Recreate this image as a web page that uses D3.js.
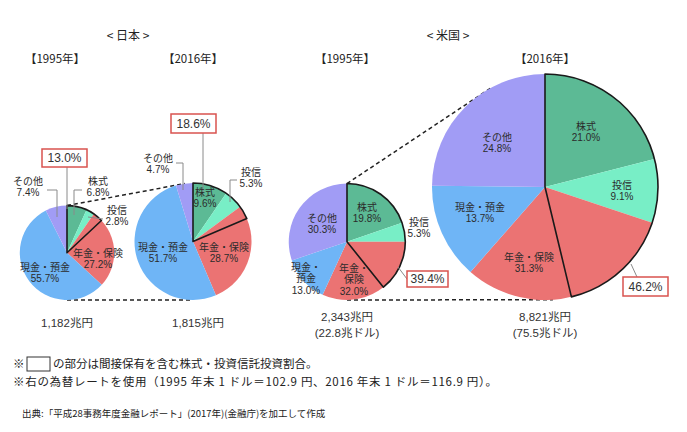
<!DOCTYPE html>
<html>
<head>
<meta charset="utf-8">
<script src="https://cdn.jsdelivr.net/npm/d3@7"></script>
<style>
  body { margin: 0; background: #fff; }
  svg { font-family: "Noto Sans CJK JP", "Noto Sans", sans-serif; }
  .lbl { font-family: "Liberation Sans", "Noto Sans CJK JP", sans-serif; }
</style>
</head>
<body>
<svg id="chart" width="687" height="432"></svg>
<script>
// data
const categories = ["株式", "投信", "年金・保険", "現金・預金", "その他"]
const jp1995 = [6.8, 2.8, 27.2, 55.7, 7.4]
const jp2016 = [9.6, 5.3, 28.7, 51.7, 4.7]
const us1995 = [19.8, 5.3, 32.0, 13.0, 30.3]
const us2016 = [21.0, 9.1, 31.3, 13.7, 24.8]
const highlightShare = [13.0, 18.6, 39.4, 46.2]
const totalsYen = [1182, 1815, 2343, 8821]
const totalLabels = ["1,182兆円", "1,815兆円", "2,343兆円", "8,821兆円"]
const dollarLabels = [null, null, "(22.8兆ドル)", "(75.5兆ドル)"]
const yearLabels = ["【1995年】", "【2016年】", "【1995年】", "【2016年】"]
const countryLabels = ["< 日本 >", "< 米国 >"]

const colors = d3.scaleOrdinal()
  .domain(categories)
  .range(["#5cba95", "#78eec6", "#eb7373", "#6fb5f6", "#a19cf5"])

const svg = d3.select("#chart")
const baseY = 300

/**
 * Radius scales, one per country
 */
const rJp = d3.scaleSqrt().domain([0, 1815]).range([0, 58.5])
const rUs = d3.scaleSqrt().domain([0, 8821]).range([0, 113])

const pies = [
  { values: jp1995, cx: 67, r: rJp(totalsYen[0]) },
  { values: jp2016, cx: 193, r: rJp(totalsYen[1]) },
  { values: us1995, cx: 347, r: rUs(totalsYen[2]) },
  { values: us2016, cx: 545, r: rUs(totalsYen[3]) },
]
pies.forEach(p => { p.cy = baseY - p.r })

// label placement (annotation layout)
const labelPos = [
  [[98, 181], [117, 210], [98, 253], [45, 267], [28, 181]],
  [[205, 192], [251, 172], [224, 247], [163, 247], [158, 158]],
  [[367, 207], [419, 222], [354, 268], [306, 267], [322, 218]],
  [[586, 126], [622, 185], [529, 257], [480, 207], [497, 137]],
]
const splitNames = [null, null, { 2: ["年金・", "保険"], 3: ["現金・", "預金"] }, null]

const leaders = [
  [[47, 190], [57, 190], [57, 217]],
  [[82, 190], [74, 190], [74, 215]],
  [[103, 219], [88, 217]],
  [[176, 163], [183, 163], [183, 190]],
  [[237, 180], [230, 180], [230, 202]],
]

const boxes = [
  { x: 42, y: 149, w: 45, h: 18, line: [[67, 167], [67, 209]] },
  { x: 171, y: 114, w: 45, h: 19, line: [[203, 133], [203, 192]] },
  { x: 407, y: 271, w: 41, h: 16, line: [[407, 279], [398, 267]] },
  { x: 623, y: 277, w: 45, h: 19, line: [[637, 277], [631, 264]] },
]

const pie = d3.pie().sort(null).value(d => d)
const line = d3.line()

/**
 * Dashed perspective lines between the 1995 and 2016 pies
 */
function onCircle(p, deg) {
  const a = deg * Math.PI / 180
  return [p.cx + p.r * Math.sin(a), p.cy - p.r * Math.cos(a)]
}
const connectors = [
  [onCircle(pies[0], 0), onCircle(pies[1], -8)],
  [onCircle(pies[0], 180), onCircle(pies[1], 180)],
  [onCircle(pies[2], 0), onCircle(pies[3], -28)],
  [onCircle(pies[2], 180), onCircle(pies[3], 176)],
]
svg.selectAll(".connector")
  .data(connectors)
  .enter()
  .append("path")
  .attr("class", "connector")
  .attr("d", d => line(d))
  .attr("stroke", "#222")
  .attr("stroke-width", 1.5)
  .attr("stroke-dasharray", "4,3")
  .attr("fill", "none")

/**
 * Draw pies
 */
pies.forEach((p, i) => {
  const g = svg.append("g").attr("transform", `translate(${p.cx},${p.cy})`)
  const arc = d3.arc().innerRadius(0).outerRadius(p.r)

  g.selectAll(".slice")
    .data(pie(p.values))
    .enter()
    .append("path")
    .attr("class", "slice")
    .attr("d", arc)
    .attr("fill", (d, j) => colors(categories[j]))

  // highlighted share outline
  const total = d3.sum(p.values)
  g.append("path")
    .attr("d", arc({ startAngle: 0, endAngle: 2 * Math.PI * highlightShare[i] / total }))
    .attr("fill", "none")
    .attr("stroke", "#1a1a1a")
    .attr("stroke-width", 1.6)
    .attr("stroke-linejoin", "round")
})

/**
 * Leader lines
 */
svg.selectAll(".leader")
  .data(leaders.concat(boxes.map(b => b.line)))
  .enter()
  .append("path")
  .attr("class", "leader")
  .attr("d", d => line(d))
  .attr("stroke", "#8a8a8a")
  .attr("stroke-width", 1)
  .attr("fill", "none")

/**
 * Slice labels, one text per line
 */
pies.forEach((p, i) => {
  p.values.forEach((v, j) => {
    const [x, y] = labelPos[i][j]
    const split = splitNames[i] && splitNames[i][j]
    const lines = (split ? split : [categories[j]]).concat([v.toFixed(1) + "%"])
    svg.selectAll(null)
      .data(lines)
      .enter()
      .append("text")
      .attr("class", "lbl")
      .attr("x", x)
      .attr("y", (d, k) => y + 3.6 + k * 11.5)
      .attr("text-anchor", "middle")
      .attr("font-size", 10)
      .attr("fill", "#2b2b2b")
      .text(d => d)
  })
})

/**
 * Red boxes with highlighted shares
 */
const boxG = svg.selectAll(".hbox")
  .data(boxes)
  .enter()
  .append("g")
  .attr("class", "hbox")
boxG.append("rect")
  .attr("x", d => d.x)
  .attr("y", d => d.y)
  .attr("width", d => d.w)
  .attr("height", d => d.h)
  .attr("fill", "#fff")
  .attr("stroke", "#d9534f")
  .attr("stroke-width", 1.5)
boxG.append("text")
  .attr("class", "lbl")
  .attr("x", d => d.x + d.w / 2)
  .attr("y", d => d.y + d.h / 2 + 4)
  .attr("text-anchor", "middle")
  .attr("font-size", 12)
  .attr("fill", "#333")
  .text((d, i) => highlightShare[i].toFixed(1) + "%")

/**
 * Headers and totals
 */
svg.selectAll(".country")
  .data(countryLabels)
  .enter()
  .append("text")
  .attr("x", (d, i) => [128, 448][i])
  .attr("y", 40)
  .attr("text-anchor", "middle")
  .attr("font-size", 12)
  .attr("fill", "#222")
  .text(d => d)

svg.selectAll(".year")
  .data(yearLabels)
  .enter()
  .append("text")
  .attr("x", (d, i) => [55, 193, 345, 545][i])
  .attr("y", 63)
  .attr("text-anchor", "middle")
  .attr("font-size", 11.5)
  .attr("fill", "#222")
  .text(d => d)

pies.forEach((p, i) => {
  const x = i === 1 ? 198 : p.cx
  svg.append("text")
    .attr("class", "lbl")
    .attr("x", x)
    .attr("y", (dollarLabels[i] ? 317 : 323) + 4)
    .attr("text-anchor", "middle")
    .attr("font-size", 11.5)
    .attr("fill", "#333")
    .text(totalLabels[i])
  if (dollarLabels[i]) {
    svg.append("text")
      .attr("class", "lbl")
      .attr("x", p.cx)
      .attr("y", 333 + 4)
      .attr("text-anchor", "middle")
      .attr("font-size", 11.5)
      .attr("fill", "#333")
      .text(dollarLabels[i])
  }
})

/**
 * Notes
 */
svg.append("text").attr("x", 13).attr("y", 368).attr("font-size", 11.5).attr("fill", "#222").text("※")
svg.append("rect")
  .attr("x", 27).attr("y", 357).attr("width", 23).attr("height", 14)
  .attr("fill", "none").attr("stroke", "#333").attr("stroke-width", 1)
svg.append("text").attr("x", 53).attr("y", 368).attr("font-size", 11.5).attr("fill", "#222")
  .text("の部分は間接保有を含む株式・投資信託投資割合。")
svg.append("text").attr("x", 13).attr("y", 386).attr("font-size", 11.5).attr("fill", "#222")
  .attr("textLength", 484)
  .text("※右の為替レートを使用（1995 年末 1 ドル＝102.9 円、2016 年末 1 ドル＝116.9 円）。")
svg.append("text").attr("x", 22).attr("y", 417).attr("font-size", 9.5).attr("fill", "#222")
  .text("出典:「平成28事務年度金融レポート」(2017年)(金融庁)を加工して作成")
</script>
</body>
</html>
